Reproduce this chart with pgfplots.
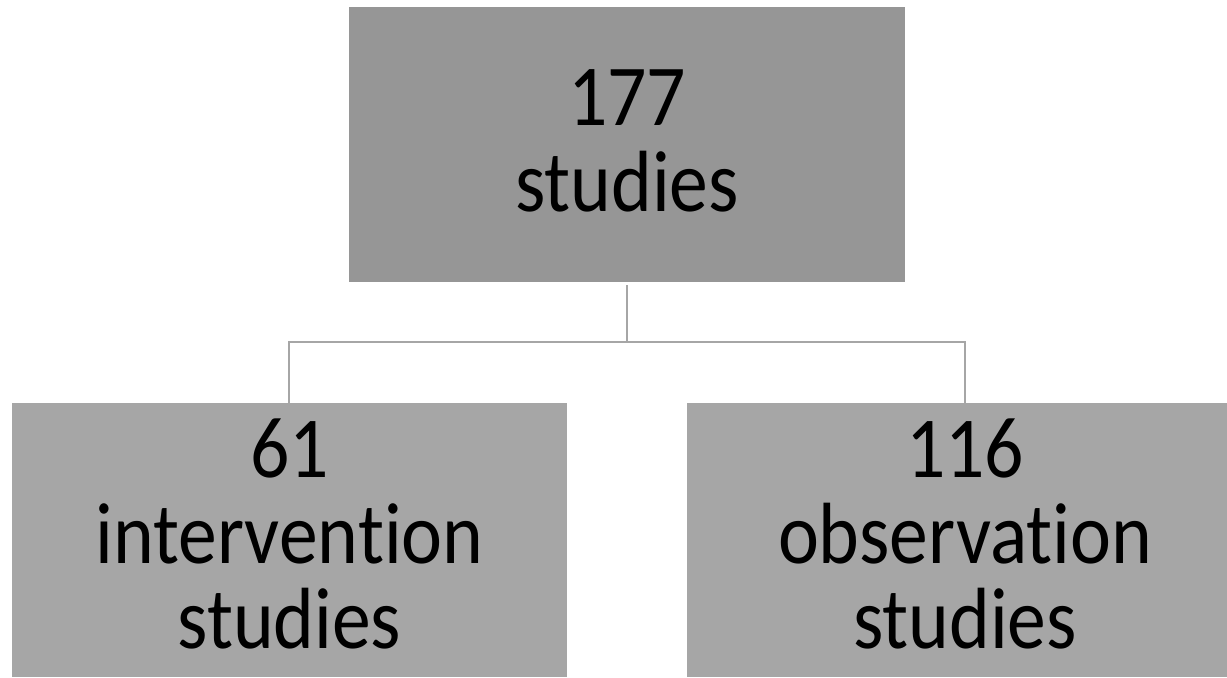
\documentclass[border=0pt]{standalone}
\usepackage{pgfplots}
\pgfplotsset{compat=1.18}
\usepackage{fontspec}
\setmainfont[Ligatures={NoCommon}]{Carlito}
\definecolor{topbox}{HTML}{969696}
\definecolor{botbox}{HTML}{A6A6A6}
\definecolor{conn}{HTML}{A6A6A6}
\newcommand{\T}[1]{{\fontsize{38.8pt}{38.8pt}\selectfont\scalebox{1}[1.12]{#1}}}
\begin{document}
\begin{tikzpicture}
\begin{axis}[
  scale only axis, width=613.5pt, height=338.5pt,
  xmin=0, xmax=1227, ymin=0, ymax=677, y dir=reverse,
  hide axis, clip=true,
]
\addplot[fill=white, draw=none] coordinates {(0,0) (1227,0) (1227,677) (0,677)} --cycle;
% boxes
\addplot[fill=topbox, draw=none] coordinates {(349,7) (905,7) (905,282) (349,282)} --cycle;
\addplot[fill=botbox, draw=none] coordinates {(12,403) (567,403) (567,677) (12,677)} --cycle;
\addplot[fill=botbox, draw=none] coordinates {(687,403) (1243,403) (1243,677) (687,677)} --cycle;
% connectors
\addplot[conn, line width=1pt] coordinates {(627,285) (627,342)};
\addplot[conn, line width=1pt] coordinates {(289,403) (289,342) (965,342) (965,403)};
% texts
\node[anchor=base, inner sep=0pt] at (axis cs:627,125) {\T{177}};
\node[anchor=base, inner sep=0pt] at (axis cs:627,211) {\T{studies}};
\node[anchor=base, inner sep=0pt] at (axis cs:289.5,477) {\T{61}};
\node[anchor=base, inner sep=0pt] at (axis cs:289.5,563) {\T{intervention}};
\node[anchor=base, inner sep=0pt] at (axis cs:289.5,648) {\T{studies}};
\node[anchor=base, inner sep=0pt] at (axis cs:965,477) {\T{116}};
\node[anchor=base, inner sep=0pt] at (axis cs:965,563) {\T{observation}};
\node[anchor=base, inner sep=0pt] at (axis cs:965,648) {\T{studies}};
\end{axis}
\end{tikzpicture}
\end{document}
